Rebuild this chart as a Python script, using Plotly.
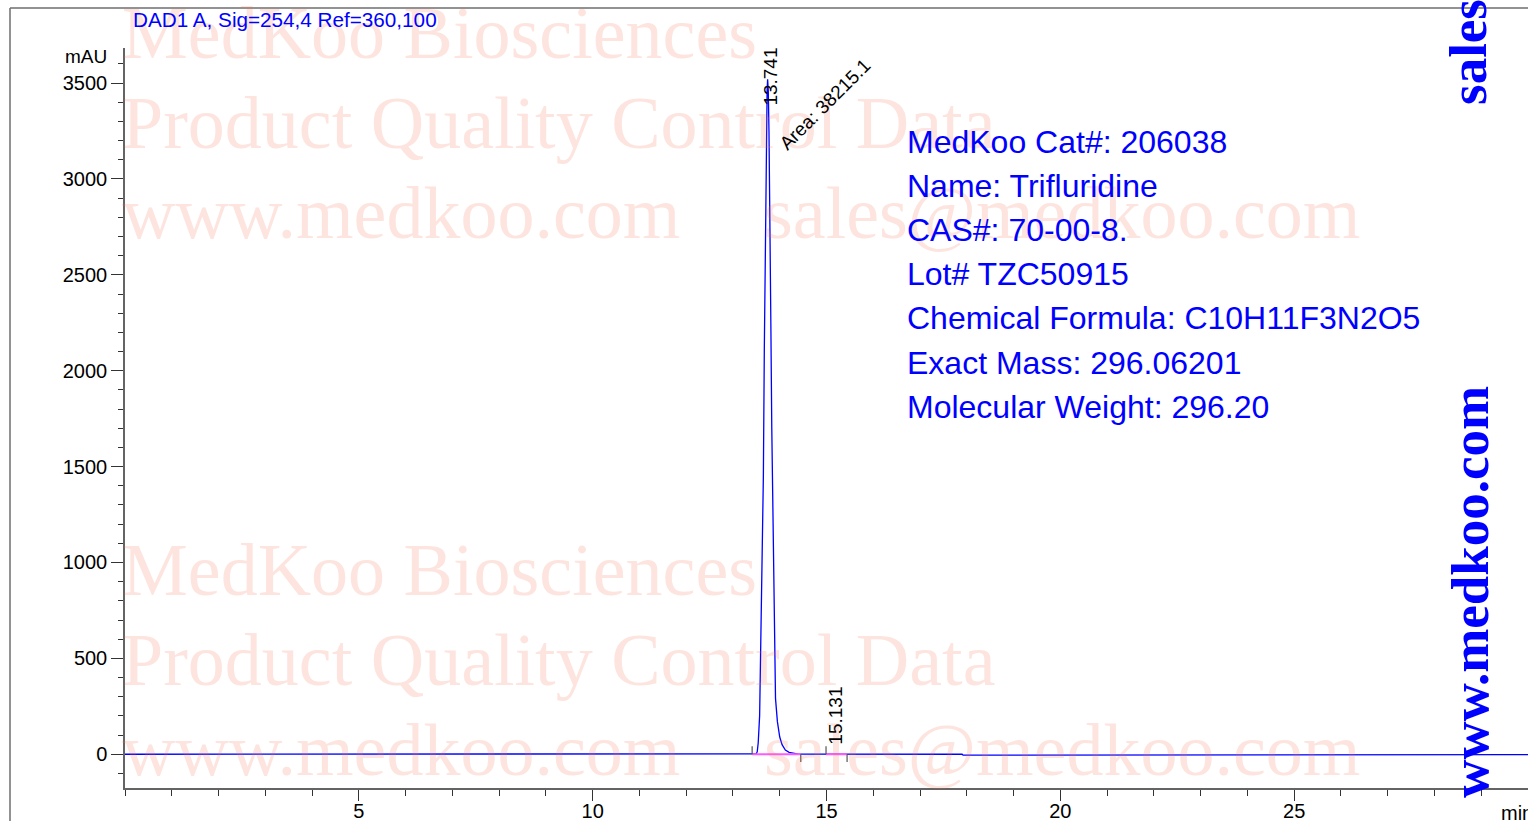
import plotly.graph_objects as go

# ---------------- data ----------------
time_min = [0.0, 13.40, 13.50, 13.52, 13.54, 13.57, 13.60, 13.63, 13.65, 13.67, 13.69, 13.71,
            13.73, 13.741, 13.755, 13.77, 13.79, 13.81, 13.83, 13.85, 13.87, 13.89, 13.91,
            13.95, 14.00, 14.05, 14.12, 14.20, 14.30, 14.40, 14.60, 15.00, 15.08, 15.131,
            15.20, 15.35, 17.90, 17.92, 25.05, 25.10, 30.0]
signal_mau = [0, 0, 2, 15, 60, 200, 600, 1000, 1450, 2100, 2700, 3150,
              3460, 3520, 3460, 3250, 2850, 2250, 1700, 1300, 800, 450, 290,
              170, 90, 50, 22, 10, 4, 1, 0.5, 0.5, 1.5, 2.5,
              1.5, 0.5, 0, -5, -5, -2, -2]

peak_rt = [13.741, 15.131]
peak_area = [38215.1, None]
integ_start = [13.41, 14.99]
integ_end = [14.45, 15.44]

x_tick_vals = [5, 10, 15, 20, 25]
y_tick_vals = [0, 500, 1000, 1500, 2000, 2500, 3000, 3500]

info_lines = ["MedKoo Cat#: 206038", "Name: Trifluridine", "CAS#: 70-00-8.",
              "Lot# TZC50915", "Chemical Formula: C10H11F3N2O5",
              "Exact Mass: 296.06201", "Molecular Weight: 296.20"]
watermark_lines = ["MedKoo Biosciences", "Product Quality Control Data", "www.medkoo.com"]
watermark_email = "sales@medkoo.com"

# ---------------- layout geometry ----------------
W, H = 1528, 821
L, R, T, B = 125, 1528, 48, 788
X_RANGE = [0, 30.0]
Y_RANGE = [-176, 3683]


def px_x(px):
    return (px - L) / (R - L)


def px_y(py):
    return (B - py) / (B - T)


BLUE = "#0000ff"
SANS = "Liberation Sans, Arial, sans-serif"
SERIF = "Liberation Serif, Times New Roman, serif"

fig = go.Figure()

# chromatogram
fig.add_trace(go.Scatter(x=time_min, y=signal_mau, mode="lines",
                         line=dict(color=BLUE, width=1.3), hoverinfo="skip"))

# integration baselines
bx, by = [], []
for s, e in zip(integ_start, integ_end):
    bx += [s, e, None]
    by += [0, 0, None]
fig.add_trace(go.Scatter(x=bx, y=by, mode="lines",
                         line=dict(color="rgb(255,90,255)", width=2), hoverinfo="skip"))

# integration event ticks
tx, ty = [], []
for s, e in zip(integ_start, integ_end):
    tx += [s, s, None, e, e, None]
    ty += [0, 42, None, 0, -40, None]
fig.add_trace(go.Scatter(x=tx, y=ty, mode="lines",
                         line=dict(color="#555555", width=1.2), hoverinfo="skip"))

annotations = []

# watermark (light salmon serif)
wm_color = "rgba(245,110,80,0.19)"
wm_font = dict(family=SERIF, size=74, color=wm_color)
for group_top in (33, 570):
    for i, txt in enumerate(watermark_lines):
        annotations.append(dict(
            text=txt, xref="paper", yref="paper", x=px_x(120), y=px_y(group_top + i * 90),
            xanchor="left", yanchor="middle", showarrow=False, font=wm_font))
    annotations.append(dict(
        text=watermark_email, xref="paper", yref="paper", x=px_x(762),
        y=px_y(group_top + 2 * 90), xanchor="left", yanchor="middle", showarrow=False,
        font=wm_font))

# header
annotations.append(dict(text="DAD1 A, Sig=254,4 Ref=360,100", xref="paper", yref="paper",
                        x=px_x(131), y=px_y(20), xanchor="left", yanchor="middle",
                        showarrow=False, font=dict(family=SANS, size=20.7, color=BLUE)))

# info block
for i, txt in enumerate(info_lines):
    annotations.append(dict(text=txt, xref="paper", yref="paper",
                            x=px_x(905), y=px_y(142 + i * 44.1), xanchor="left", yanchor="middle",
                            showarrow=False, font=dict(family=SANS, size=32, color=BLUE)))

# vertical side texts
annotations.append(dict(text="<b>sales</b>", xref="paper", yref="paper",
                        x=px_x(1468), y=px_y(52), xanchor="center", yanchor="middle",
                        textangle=-90, showarrow=False,
                        font=dict(family=SERIF, size=53, color=BLUE)))
annotations.append(dict(text="<b>www.medkoo.com</b>", xref="paper", yref="paper",
                        x=px_x(1470), y=px_y(592), xanchor="center", yanchor="middle",
                        textangle=-90, showarrow=False,
                        font=dict(family=SERIF, size=53, color=BLUE)))

# peak labels
label_y = [77, 716]
for rt, ly in zip(peak_rt, label_y):
    annotations.append(dict(text=f"{rt:.3f}", xref="x", yref="paper", x=rt, xshift=2,
                            y=px_y(ly), xanchor="center", yanchor="middle", textangle=-90,
                            showarrow=False, font=dict(family=SANS, size=19, color="black")))
annotations.append(dict(text=f"Area: {peak_area[0]}", xref="x", yref="paper",
                        x=peak_rt[0], xshift=57, y=px_y(104), xanchor="center",
                        yanchor="middle", textangle=-45, showarrow=False,
                        font=dict(family=SANS, size=19, color="black")))

# axis unit labels
annotations.append(dict(text="mAU", xref="paper", yref="paper", x=px_x(109), y=px_y(56),
                        xanchor="right", yanchor="middle", showarrow=False,
                        font=dict(family=SANS, size=19, color="black")))
annotations.append(dict(text="min", xref="paper", yref="paper", x=px_x(1499), y=px_y(813),
                        xanchor="left", yanchor="middle", showarrow=False,
                        font=dict(family=SANS, size=20, color="black")))

# outer frame
frame_color = "rgb(110,110,110)"
shapes = [
    dict(type="line", xref="paper", yref="paper", x0=px_x(10), x1=px_x(10),
         y0=px_y(8), y1=px_y(830), line=dict(color=frame_color, width=1.5)),
    dict(type="line", xref="paper", yref="paper", x0=px_x(10), x1=px_x(1540),
         y0=px_y(8), y1=px_y(8), line=dict(color=frame_color, width=1.5)),
]

axis_line = "rgb(100,100,100)"
fig.update_layout(
    width=W, height=H, autosize=False,
    margin=dict(l=L, r=W - R, t=T, b=H - B, pad=0, autoexpand=False),
    paper_bgcolor="white", plot_bgcolor="white",
    showlegend=False,
    annotations=annotations, shapes=shapes,
    font=dict(family=SANS, color="black"),
    xaxis=dict(range=X_RANGE, showgrid=False, zeroline=False, showline=True, automargin=False,
               linecolor=axis_line, linewidth=1.5,
               tickvals=x_tick_vals, ticktext=[str(v) for v in x_tick_vals],
               ticks="outside", ticklen=11, tickwidth=1.2, tickcolor="#333333",
               ticklabelstandoff=-7,
               tickfont=dict(family=SANS, size=20, color="black"),
               minor=dict(dtick=1, tick0=0, ticks="outside", ticklen=6, tickwidth=1.2,
                          tickcolor="#333333", showgrid=False)),
    yaxis=dict(range=Y_RANGE, showgrid=False, zeroline=False, showline=True, automargin=False,
               linecolor=axis_line, linewidth=1.5,
               tickvals=y_tick_vals, ticktext=[str(v) for v in y_tick_vals],
               ticks="outside", ticklen=12, tickwidth=1.2, tickcolor="#333333",
               tickfont=dict(family=SANS, size=20, color="black"),
               minor=dict(dtick=100, tick0=0, ticks="outside", ticklen=5, tickwidth=1.2,
                          tickcolor="#333333", showgrid=False)),
)

fig.write_html("out.html", config={"displayModeBar": False},
               post_script="document.body.style.margin='0';document.body.style.overflow='hidden';")
